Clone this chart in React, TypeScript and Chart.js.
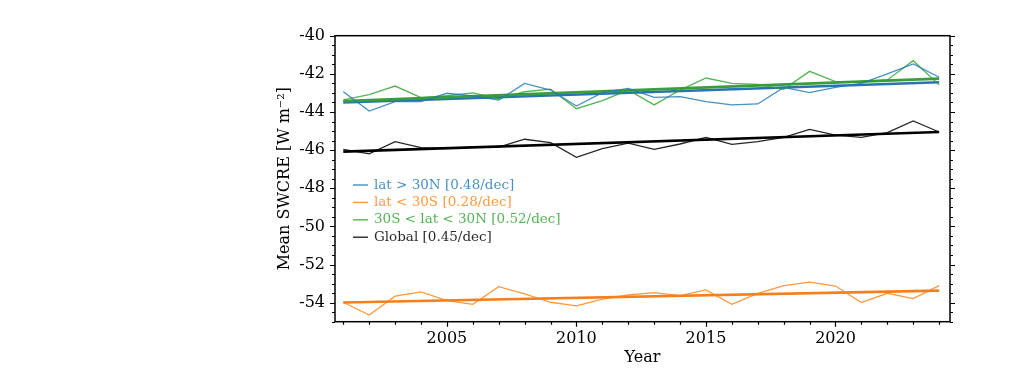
import { useEffect, useRef } from "react";
import { Chart, registerables } from "chart.js";

Chart.register(...registerables);

const years = [2001, 2002, 2003, 2004, 2005, 2006, 2007, 2008, 2009, 2010, 2011, 2012, 2013, 2014, 2015, 2016, 2017, 2018, 2019, 2020, 2021, 2022, 2023, 2024];
const northValues = [-42.94, -43.95, -43.46, -43.46, -43.02, -43.16, -43.37, -42.5, -42.85, -43.69, -42.99, -42.76, -43.23, -43.2, -43.46, -43.63, -43.58, -42.71, -42.99, -42.71, -42.5, -42.0, -41.48, -42.18];
const southValues = [-53.98, -54.65, -53.66, -53.44, -53.9, -54.09, -53.16, -53.54, -53.98, -54.17, -53.82, -53.6, -53.48, -53.63, -53.33, -54.09, -53.51, -53.11, -52.92, -53.13, -54.0, -53.51, -53.79, -53.11];
const tropicsValues = [-43.37, -43.09, -42.64, -43.25, -43.15, -43.0, -43.3, -42.94, -42.8, -43.83, -43.41, -42.85, -43.63, -42.85, -42.22, -42.5, -42.55, -42.81, -41.87, -42.41, -42.41, -42.32, -41.31, -42.58];
const globalValues = [-45.96, -46.2, -45.56, -45.87, -45.9, -45.85, -45.84, -45.43, -45.61, -46.38, -45.92, -45.64, -45.96, -45.68, -45.33, -45.7, -45.56, -45.33, -44.91, -45.21, -45.33, -45.08, -44.47, -45.05];

const trendYears = [2001, 2024];
const northTrend = [-43.5, -42.44];
const southTrend = [-53.99, -53.37];
const tropicsTrend = [-43.43, -42.25];
const globalTrend = [-46.08, -45.05];

const seriesLabels = ["lat > 30N [0.48/dec]", "lat < 30S [0.28/dec]", "30S < lat < 30N [0.52/dec]", "Global [0.45/dec]"];
const thinColors = ["rgba(31,119,180,0.82)", "rgba(255,127,14,0.8)", "rgba(44,160,44,0.8)", "rgba(0,0,0,0.85)"];
const trendColors = ["#2a73b3", "#f57f1c", "#3a9e3a", "#000000"];

const xTickValues = [2005, 2010, 2015, 2020];
const yTickValues = [-54, -52, -50, -48, -46, -44, -42, -40];
const xLimits = [2000.68, 2024.42];
const yLimits = [-55.0, -40.0];

const FONT = "'DejaVu Serif', serif";

const pts = (xs: number[], ys: number[]) => xs.map((x, i) => ({ x, y: ys[i] }));

const framePlugin = {
  id: "frameTicks",
  afterDraw(chart: any) {
    const ctx = chart.ctx;
    const { left, right, top, bottom } = chart.chartArea;
    const xs = chart.scales.x;
    const ys = chart.scales.y;
    ctx.save();
    ctx.strokeStyle = "#000";
    ctx.lineWidth = 1.5;
    ctx.strokeRect(left, top, right - left, bottom - top);
    ctx.lineWidth = 1.2;
    ctx.beginPath();
    // x ticks (bottom)
    for (let yr = 2001; yr <= 2024; yr++) {
      const px = Math.round(xs.getPixelForValue(yr)) + 0.5;
      const len = xTickValues.includes(yr) ? 5 : 3;
      ctx.moveTo(px, bottom);
      ctx.lineTo(px, bottom + len);
    }
    // y ticks (left and right)
    for (let v = -55; v <= -40; v += 0.5) {
      const py = Math.round(ys.getPixelForValue(v)) + 0.5;
      const major = Math.abs(v % 2) < 1e-6;
      const len = major ? 5 : 3;
      ctx.moveTo(left, py);
      ctx.lineTo(left - len, py);
      ctx.moveTo(right, py);
      ctx.lineTo(right + len, py);
    }
    ctx.stroke();

    // legend
    const lx = left + 18;
    let ly = 185;
    ctx.font = `13.5px ${FONT}`;
    ctx.textBaseline = "middle";
    ctx.textAlign = "left";
    seriesLabels.forEach((lab, i) => {
      ctx.strokeStyle = thinColors[i];
      ctx.lineWidth = 1.4;
      ctx.beginPath();
      ctx.moveTo(lx, ly);
      ctx.lineTo(lx + 15, ly);
      ctx.stroke();
      ctx.fillStyle = thinColors[i];
      ctx.fillText(lab, lx + 21, ly);
      ly += 17.4;
    });
    ctx.restore();
  },
};

export default function App() {
  const ref = useRef<HTMLCanvasElement | null>(null);
  useEffect(() => {
    if (!ref.current) return;
    const thin = (vals: number[], i: number) => ({
      label: seriesLabels[i],
      data: pts(years, vals),
      borderColor: thinColors[i],
      borderWidth: 1.3,
      pointRadius: 0,
      fill: false,
      tension: 0,
    });
    const trend = (vals: number[], i: number) => ({
      label: seriesLabels[i] + " trend",
      data: pts(trendYears, vals),
      borderColor: trendColors[i],
      borderWidth: 2.6,
      pointRadius: 0,
      fill: false,
      tension: 0,
    });
    const chart = new Chart(ref.current, {
      type: "line",
      data: {
        datasets: [
          thin(northValues, 0),
          thin(southValues, 1),
          thin(tropicsValues, 2),
          thin(globalValues, 3),
          trend(globalTrend, 3),
          trend(southTrend, 1),
          trend(tropicsTrend, 2),
          trend(northTrend, 0),
        ],
      },
      options: {
        animation: false,
        responsive: false,
        devicePixelRatio: 1,
        layout: { padding: { left: 275, right: 74, top: 35.7, bottom: 14.4 } },
        plugins: { legend: { display: false }, tooltip: { enabled: false } },
        scales: {
          x: {
            type: "linear",
            min: xLimits[0],
            max: xLimits[1],
            grid: { display: false, drawTicks: false },
            border: { display: false },
            afterBuildTicks: (s: any) => {
              s.ticks = xTickValues.map((v) => ({ value: v }));
            },
            afterFit: (s: any) => {
              s.height = 382 - 14.4 - 35.7 - 286;
            },
            ticks: {
              color: "#000",
              padding: 8,
              maxRotation: 0,
              font: { family: FONT, size: 16 },
              callback: (v: any) => String(v),
            },
            title: {
              display: true,
              text: "Year",
              color: "#000",
              padding: 0,
              font: { family: FONT, size: 16 },
            },
          },
          y: {
            type: "linear",
            min: yLimits[0],
            max: yLimits[1],
            grid: { display: false, drawTicks: false },
            border: { display: false },
            afterBuildTicks: (s: any) => {
              s.ticks = yTickValues.map((v) => ({ value: v }));
            },
            afterFit: (s: any) => {
              s.width = 60;
            },
            ticks: {
              color: "#000",
              padding: 10,
              font: { family: FONT, size: 16 },
              callback: (v: any) => String(v),
            },
            title: {
              display: true,
              text: "Mean SWCRE [W m\u207B\u00B2]",
              color: "#000",
              padding: 0,
              font: { family: FONT, size: 16 },
            },
          },
        },
      },
      plugins: [framePlugin],
    } as any);
    return () => chart.destroy();
  }, []);
  return (
    <div style={{ position: "absolute", left: 0, top: 0, width: 1024, height: 382, background: "#fff" }}>
      <canvas ref={ref} width={1024} height={382} style={{ width: 1024, height: 382, display: "block" }} />
    </div>
  );
}
